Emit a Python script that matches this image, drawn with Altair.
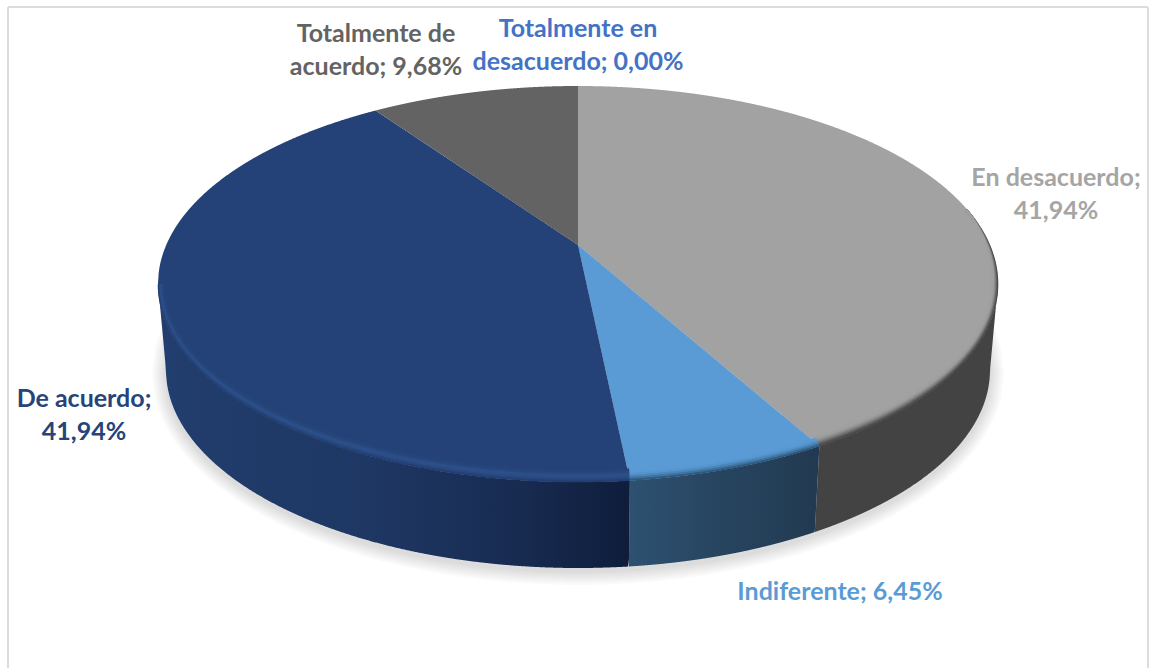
import math

import altair as alt
import numpy as np
import pandas as pd

W, H = 1149, 668

# Survey answers, clockwise from twelve o'clock
categories = ["Totalmente en desacuerdo", "En desacuerdo", "Indiferente", "De acuerdo", "Totalmente de acuerdo"]
shares = [0.00, 41.94, 6.45, 41.94, 9.68]
top_colors = ["#4472c4", "#a2a2a2", "#5b9bd5", "#244277", "#636363"]
text_colors = ["#4472c4", "#a5a5a5", "#5b9bd5", "#264478", "#636363"]

# Label lines per category, with their anchor on the page
label_lines = {
    "Totalmente en desacuerdo": ["Totalmente en", "desacuerdo; {}"],
    "En desacuerdo": ["En desacuerdo;", "{}"],
    "Indiferente": ["Indiferente; {}"],
    "De acuerdo": ["De acuerdo;", "{}"],
    "Totalmente de acuerdo": ["Totalmente de", "acuerdo; {}"],
}
label_anchor = {
    "Totalmente en desacuerdo": (578, 29),
    "En desacuerdo": (1056, 178),
    "Indiferente": (840, 592),
    "De acuerdo": (84, 399),
    "Totalmente de acuerdo": (376, 34),
}
LINE_GAP = 33

# Pie geometry: top and bottom rims and the perspective shift of the centre
CX = 578
TOP = dict(cy=284.0, rx=420.0, ry=198.0)
BOTTOM = dict(cy=370.0, rx=412.0, ry=198.0)
APEX_Y = 245.0
TILT = (TOP["cy"] - APEX_Y) / TOP["ry"]

x_scale = alt.Scale(domain=[0, W], nice=False, zero=False)
y_scale = alt.Scale(domain=[H, 0], nice=False, zero=False)


def project(theta):
    """Circle angle (clockwise from the top, radians) to perspective disc coordinates."""
    u, v = math.sin(theta), math.cos(theta)
    d = 1 + TILT * v
    return u * math.sqrt(1 - TILT**2) / d, (v + TILT) / d


def on_rim(theta, rim):
    u, v = project(theta)
    return CX + rim["rx"] * u, rim["cy"] - rim["ry"] * v


def thetas(a, b, step=0.004):
    n = max(2, int(abs(b - a) / step))
    return np.linspace(a, b, n)


def polygon_to_band(points, samples=520):
    """Turn an x-monotone outline into columns x, y, y2 for an area mark."""
    pts = list(points)
    xs_all = [p[0] for p in pts]
    lo, hi = min(xs_all), max(xs_all) - 1e-6
    grid = sorted(set(np.linspace(lo, hi, samples).tolist()))
    rows = []
    for x in grid:
        crossings = []
        for (x1, y1), (x2, y2) in zip(pts, pts[1:] + pts[:1]):
            if (x1 <= x < x2) or (x2 <= x < x1):
                crossings.append(y1 + (x - x1) * (y2 - y1) / (x2 - x1))
        if len(crossings) >= 2:
            rows.append({"x": x, "y": min(crossings), "y2": max(crossings)})
    return pd.DataFrame(rows)


def band_layer(frame, color, opacity=1.0):
    return (
        alt.Chart(frame)
        .mark_area(color=color, opacity=opacity, interpolate="linear")
        .encode(
            x=alt.X("x:Q", scale=x_scale, axis=None),
            y=alt.Y("y:Q", scale=y_scale, axis=None),
            y2="y2:Q",
        )
    )


def horizontal_gradient(stops):
    return alt.Gradient(
        gradient="linear",
        x1=0, x2=1, y1=0, y2=0,
        stops=[alt.GradientStop(color=c, offset=o) for o, c in stops],
    )


total = sum(shares)
edges = np.cumsum([0.0] + shares) / total * 2 * math.pi
spans = {c: (edges[i], edges[i + 1]) for i, c in enumerate(categories)}
front_start = math.acos(-TILT)
front_end = 2 * math.pi - front_start

layers = []

# Soft cast shadow beneath the disc
for k in range(1, 8):
    t = thetas(0, 2 * math.pi, 0.01)
    ring = [
        (CX + (BOTTOM["rx"] + 2 * k) * math.sin(a), 373 - (BOTTOM["ry"] + 2 * k) * math.cos(a))
        for a in t[:-1]
    ]
    layers.append(band_layer(polygon_to_band(ring, 300), "#000000", 0.018))

# Side wall, only the part of each slice that faces the viewer
wall_fill = {
    "En desacuerdo": "#434343",
    "Indiferente": horizontal_gradient([(0, "#2d5170"), (0.5, "#27445f"), (1, "#213a51")]),
    "De acuerdo": horizontal_gradient(
        [(0, "#223e6e"), (0.45, "#1e3763"), (0.75, "#182c52"), (1, "#0f1d3b")]
    ),
}
for name, fill in wall_fill.items():
    a, b = spans[name]
    a, b = max(a, front_start), min(b, front_end)
    t = thetas(a, b)
    outline = [on_rim(x, TOP) for x in t] + [on_rim(x, BOTTOM) for x in t[::-1]]
    layers.append(band_layer(polygon_to_band(outline), fill))

# Top surface of the slices, all meeting at the shifted centre
for name, color in zip(categories, top_colors):
    a, b = spans[name]
    if b - a < 1e-6:
        continue
    outline = [(CX, APEX_Y)] + [on_rim(x, TOP) for x in thetas(a, b)]
    layers.append(band_layer(polygon_to_band(outline, 700), color))

# Bevelled lip: nested strokes fading from the wall tone into the top colour
bevel = {
    "En desacuerdo": (0.38, [(0, "#484848"), (2, "#5c5c5c"), (4, "#747474"), (6, "#8a8a8a"), (8, "#999999"), (10, "#a0a0a0")]),
    "Indiferente": (0.0, [(0, "#2f5a7d"), (2, "#3f739f"), (4, "#4c87bc"), (6, "#5694cc"), (8, "#5a9ad4")]),
    "De acuerdo": (0.0, [(0, "#233f72"), (2, "#27477e"), (4, "#2b4e87"), (6, "#2c4f89"), (8, "#284980"), (10, "#25447a")]),
}
rim_rows = []
for name, (reach, levels) in bevel.items():
    a, b = spans[name]
    for d, color in levels:
        seq = 0
        for th in thetas(a, b):
            u, v = project(th)
            if v > reach + 1e-9:
                continue
            fade = 1.0 if v <= 0 else max(0.0, 1 - v / reach)
            rim_rows.append(
                {
                    "x": CX + (TOP["rx"] - 0.5 * d * fade - 1) * u,
                    "y": TOP["cy"] - (TOP["ry"] - d * fade - 1) * v,
                    "seq": seq,
                    "group": f"{name}-{d}",
                    "tone": color,
                }
            )
            seq += 1
layers.append(
    alt.Chart(pd.DataFrame(rim_rows))
    .mark_line(strokeWidth=2.6, interpolate="linear")
    .encode(
        x=alt.X("x:Q", scale=x_scale, axis=None),
        y=alt.Y("y:Q", scale=y_scale, axis=None),
        detail="group:N",
        order="seq:Q",
        color=alt.Color("tone:N", scale=None, legend=None),
    )
)

# Data labels: "category; share" with a decimal comma
text_rows = []
for name, share, color in zip(categories, shares, text_colors):
    ax, ay = label_anchor[name]
    value = f"{share:.2f}".replace(".", ",") + "%"
    for i, line in enumerate(label_lines[name]):
        text_rows.append({"px": ax, "py": ay + i * LINE_GAP, "text": line.format(value), "tone": color})
layers.append(
    alt.Chart(pd.DataFrame(text_rows))
    .mark_text(font="Lato", fontWeight="bold", fontSize=25, align="center", baseline="middle")
    .encode(
        x=alt.X("px:Q", scale=x_scale, axis=None),
        y=alt.Y("py:Q", scale=y_scale, axis=None),
        text="text:N",
        color=alt.Color("tone:N", scale=None, legend=None),
    )
)

# Frame around the chart area; its lower edge falls off the page
frame_color = "#dcdcdc"
for enc in (
    dict(x=alt.value(8), y=alt.value(7), y2=alt.value(H)),
    dict(x=alt.value(1148), y=alt.value(7), y2=alt.value(H)),
    dict(x=alt.value(8), x2=alt.value(1148), y=alt.value(7)),
):
    layers.append(alt.Chart(pd.DataFrame({"k": [0]})).mark_rule(color=frame_color, strokeWidth=2).encode(**enc))

chart = (
    alt.layer(*layers)
    .properties(width=W, height=H, padding=0, autosize=alt.AutoSizeParams(type="none"), background="#ffffff")
    .configure_view(stroke=None)
)
chart.save("out.html", embed_options={"renderer": "svg", "actions": False})
